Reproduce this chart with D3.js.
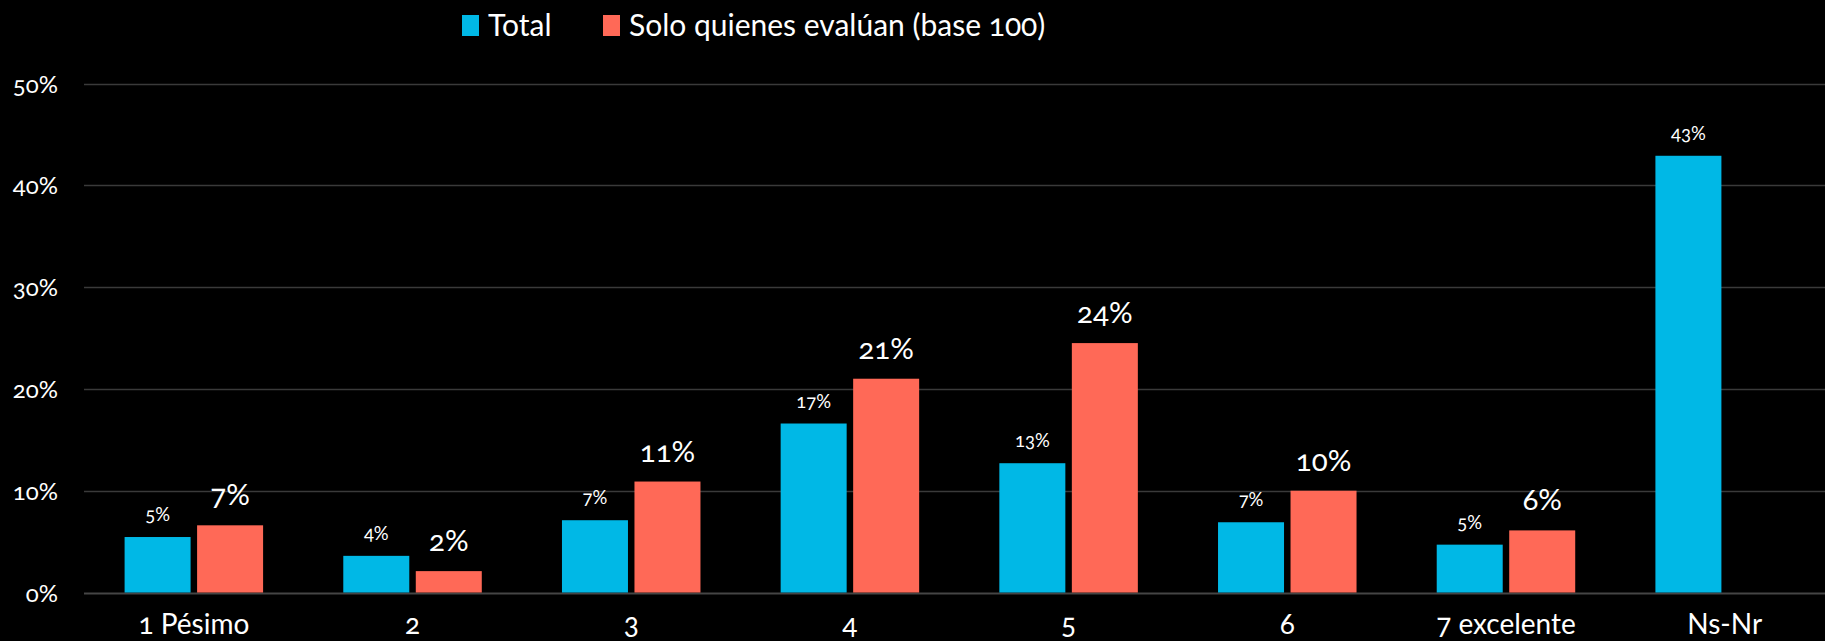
<!DOCTYPE html>
<html>
<head>
<meta charset="utf-8">
<script src="https://cdn.jsdelivr.net/npm/d3@7"></script>
<style>
  html, body { margin: 0; padding: 0; background: #000; }
  svg { display: block; font-family: "Lato", "Open Sans", sans-serif; font-variant-numeric: oldstyle-nums; }
</style>
</head>
<body>
<svg id="chart" width="1825" height="641"></svg>
<script>
const categories = ["1 Pésimo", "2", "3", "4", "5", "6", "7 excelente", "Ns-Nr"];
const seriesNames = ["Total", "Solo quienes evalúan (base 100)"];
const totalValues = [5.45, 3.6, 7.1, 16.6, 12.7, 6.9, 4.7, 42.9];
const evaluanValues = [6.6, 2.1, 10.9, 21.0, 24.5, 10.0, 6.1, null];
const totalLabels = ["5%", "4%", "7%", "17%", "13%", "7%", "5%", "43%"];
const evaluanLabels = ["7%", "2%", "11%", "21%", "24%", "10%", "6%", null];
const yTicks = [0, 10, 20, 30, 40, 50];

const colors = { "Total": "#00B8E6", "Solo quienes evalúan (base 100)": "#FF6957" };

const W = 1825, H = 641;
const svg = d3.select("#chart");
svg.append("rect").attr("width", W).attr("height", H).attr("fill", "#000");

const x0 = d3.scaleBand().domain(categories).range([84.5, 1834]).paddingInner(0).paddingOuter(0);
const x1 = d3.scaleBand().domain(seriesNames).range([-69.25, 69.25]).paddingInner(0.0897);
const y = d3.scaleLinear().domain([0, 50]).range([592.5, 83.5]);

// gridlines
const grid = svg.append("g");
grid.selectAll("line").data(yTicks).join("line")
  .attr("x1", 84).attr("x2", W)
  .attr("y1", d => Math.round(y(d)) + 0.5).attr("y2", d => Math.round(y(d)) + 0.5)
  .attr("stroke", d => d === 0 ? "#454545" : "#3a3a3a")
  .attr("stroke-width", d => d === 0 ? 2.2 : 1.4);

// y axis labels via d3 axis
const yAxis = d3.axisLeft(y).tickValues(yTicks).tickFormat(d => d + "%").tickSize(0).tickPadding(0);
const yg = svg.append("g").attr("transform", "translate(58,0)").call(yAxis);
yg.select(".domain").remove();
yg.selectAll("text").attr("fill", "#fff").attr("font-size", 24).attr("font-family", "Lato, sans-serif").attr("dy", "0.36em");

// x axis labels via d3 axis
const xAxis = d3.axisBottom(x0).tickSize(0).tickPadding(0);
const xg = svg.append("g").attr("transform", "translate(0,592.5)").call(xAxis);
xg.select(".domain").remove();
xg.selectAll("text").attr("fill", "#fff").attr("font-size", 28).attr("font-family", "Lato, sans-serif").attr("dy", null).attr("y", 41);

// bars
const rows = categories.map((c, i) => ({
  cat: c,
  items: [
    { s: seriesNames[0], v: totalValues[i], label: totalLabels[i] },
    { s: seriesNames[1], v: evaluanValues[i], label: evaluanLabels[i] }
  ].filter(d => d.v !== null)
}));

const groups = svg.append("g").selectAll("g").data(rows).join("g")
  .attr("transform", d => `translate(${x0(d.cat) + x0.bandwidth() / 2},0)`);

groups.selectAll("rect").data(d => d.items).join("rect")
  .attr("x", d => x1(d.s))
  .attr("width", x1.bandwidth())
  .attr("y", d => y(d.v))
  .attr("height", d => y(0) - y(d.v))
  .attr("fill", d => colors[d.s]);

groups.selectAll("text").data(d => d.items).join("text")
  .attr("x", d => x1(d.s) + x1.bandwidth() / 2)
  .attr("y", d => y(d.v) - (d.s === seriesNames[0] ? 16 : 20))
  .attr("text-anchor", "middle")
  .attr("fill", "#fff")
  .attr("font-size", d => d.s === seriesNames[0] ? 18.5 : 29.5)
  .text(d => d.label);

// legend
const legend = svg.append("g");
const legendX = [462, 603];
seriesNames.forEach((s, i) => {
  const g = legend.append("g").attr("transform", `translate(${legendX[i]},0)`);
  g.append("rect").attr("x", 0).attr("y", 15).attr("width", 17).attr("height", 21).attr("fill", colors[s]);
  g.append("text").attr("x", 26).attr("y", 36).attr("fill", "#fff").attr("font-size", 30).text(s);
});
</script>
</body>
</html>
